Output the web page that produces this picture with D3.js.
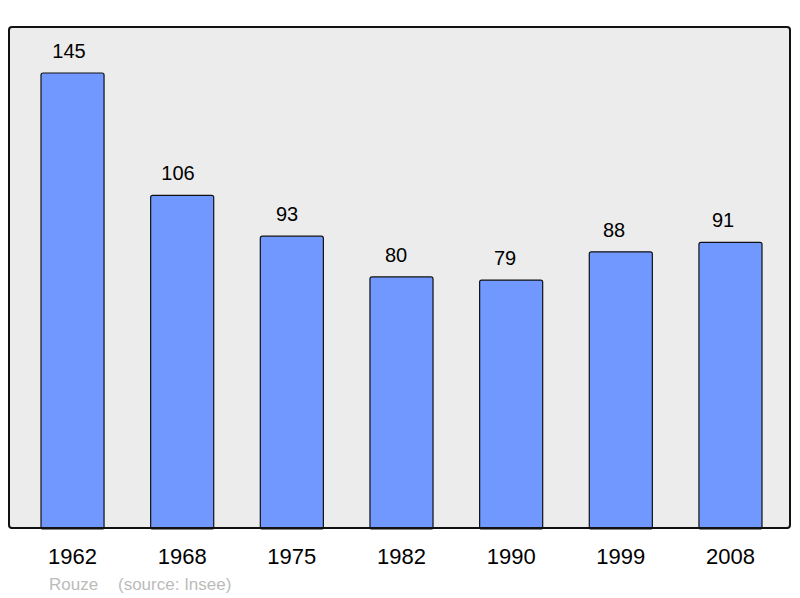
<!DOCTYPE html>
<html>
<head>
<meta charset="utf-8">
<script src="https://cdn.jsdelivr.net/npm/d3@7"></script>
<style>
  body { margin: 0; background: #fff; }
  svg { display: block; font-family: "Liberation Sans", Arial, sans-serif; }
</style>
</head>
<body>
<svg id="chart"></svg>
<script>
const years = ['1962', '1968', '1975', '1982', '1990', '1999', '2008'];
const population = [145, 106, 93, 80, 79, 88, 91];
const commune = 'Rouze';
const source = '(source: Insee)';

const width = 800, height = 598;
const frame = { left: 9, top: 27, right: 790, bottom: 528 };

const svg = d3.select('#chart')
  .attr('width', width)
  .attr('height', height);

// plot frame
svg.append('rect')
  .attr('x', frame.left)
  .attr('y', frame.top)
  .attr('width', frame.right - frame.left)
  .attr('height', frame.bottom - frame.top)
  .attr('rx', 3)
  .attr('fill', '#ececec')
  .attr('stroke', '#111')
  .attr('stroke-width', 2);

const x = d3.scaleBand()
  .domain(years)
  .range([41, 762])
  .paddingInner(0.425)
  .paddingOuter(0);

// value labels use a slightly tighter spacing than the bars
const xLabel = d3.scalePoint()
  .domain(years)
  .range([69, 723]);

const y = d3.scaleLinear()
  .domain([0, 145])
  .range([frame.bottom, 73]);

const data = years.map((yr, i) => ({ year: yr, value: population[i] }));

svg.selectAll('.bar')
  .data(data)
  .enter().append('rect')
  .attr('class', 'bar')
  .attr('x', d => x(d.year))
  .attr('y', d => y(d.value))
  .attr('width', x.bandwidth())
  .attr('height', d => y(0) - y(d.value) + 1)
  .attr('rx', 2)
  .attr('fill', '#7098ff')
  .attr('stroke', '#111')
  .attr('stroke-width', 1.2);

// redraw frame bottom line over bars
svg.append('line')
  .attr('x1', frame.left + 2)
  .attr('x2', frame.right - 2)
  .attr('y1', frame.bottom)
  .attr('y2', frame.bottom)
  .attr('stroke', '#111')
  .attr('stroke-width', 2);

svg.selectAll('.val')
  .data(data)
  .enter().append('text')
  .attr('class', 'val')
  .attr('x', d => xLabel(d.year))
  .attr('y', d => y(d.value) - 15)
  .attr('text-anchor', 'middle')
  .attr('font-size', 20)
  .attr('fill', '#000')
  .text(d => d.value);

// year axis labels
const axis = svg.append('g')
  .attr('transform', `translate(0,${frame.bottom})`)
  .call(d3.axisBottom(x).tickSize(0).tickPadding(0));
axis.select('.domain').remove();
axis.selectAll('text')
  .attr('dy', null)
  .attr('y', 36)
  .attr('font-size', 22)
  .attr('font-family', '"Liberation Sans", Arial, sans-serif')
  .attr('fill', '#000');

// footer
svg.append('text')
  .attr('x', 49)
  .attr('y', 590)
  .attr('font-size', 17)
  .attr('fill', '#bbbbbb')
  .text(commune);
svg.append('text')
  .attr('x', 118)
  .attr('y', 590)
  .attr('font-size', 17)
  .attr('fill', '#bbbbbb')
  .text(source);
</script>
</body>
</html>
